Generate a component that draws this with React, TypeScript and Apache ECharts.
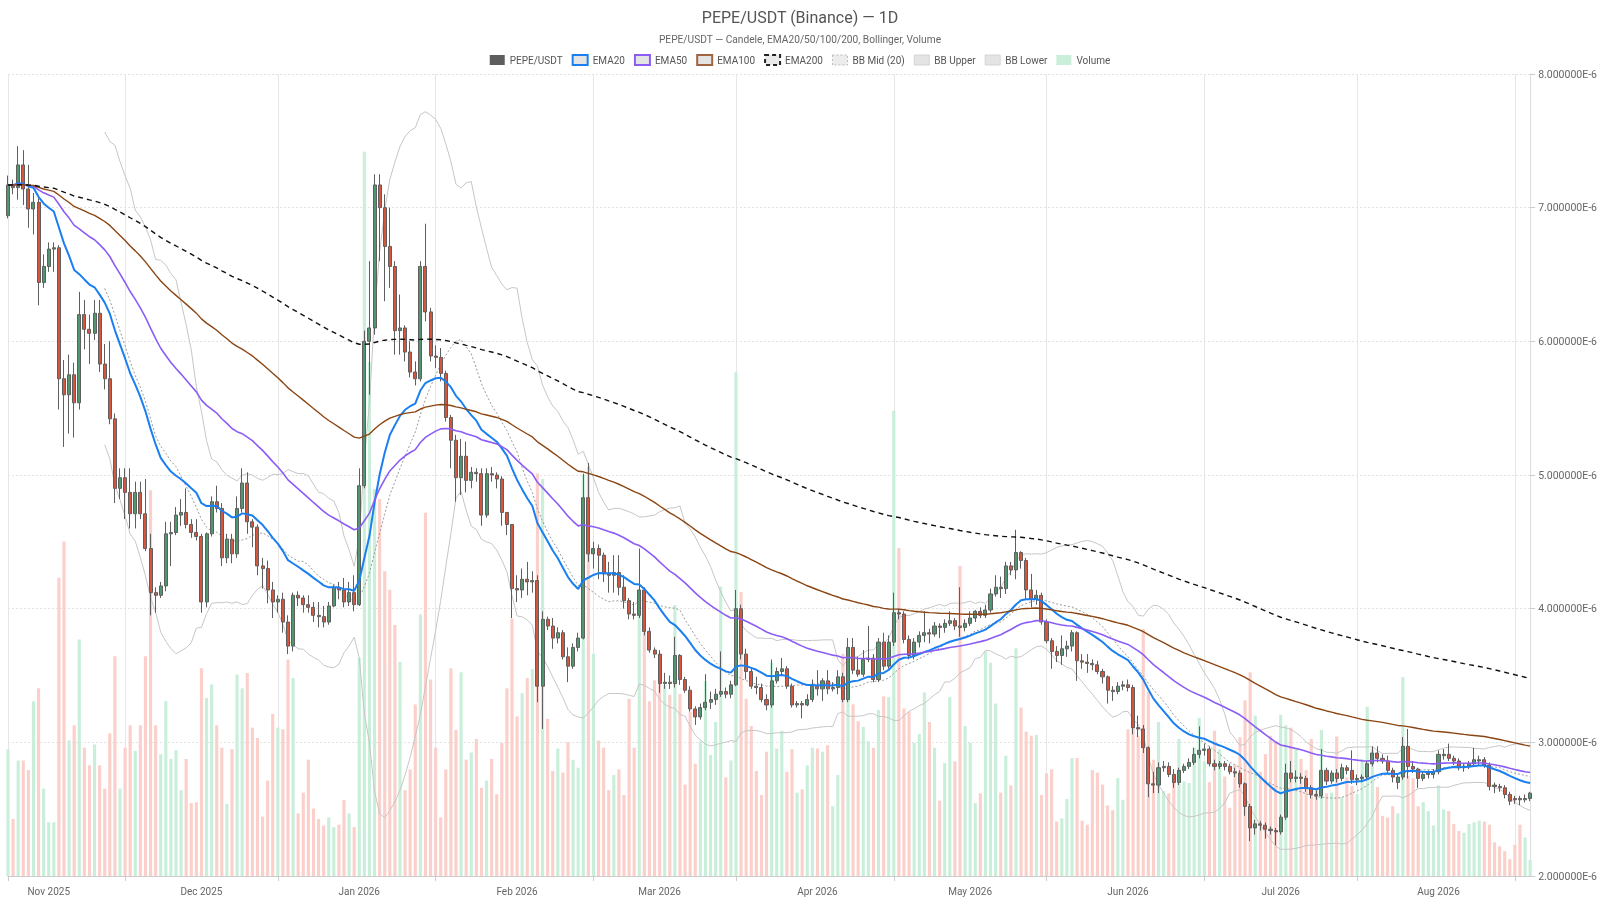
import React, { useEffect, useRef } from 'react';
import * as echarts from 'echarts';

// first daily candle of the series
const START = { y: 2025, m: 9, d: 24 };
const MONTHS = ['Jan', 'Feb', 'Mar', 'Apr', 'May', 'Jun', 'Jul', 'Aug', 'Sep', 'Oct', 'Nov', 'Dec'];

// daily candles, price in 1e-6 USDT: [open, close, low, high]
const candles: number[][] = [
  [6.94, 7.17, 6.92, 7.24], [7.17, 7.15, 7.10, 7.21], [7.15, 7.32, 7.06, 7.46], [7.32, 7.14, 7.02, 7.43], [7.14, 6.99, 6.85, 7.32],
  [6.99, 7.04, 6.80, 7.11], [7.04, 6.44, 6.27, 7.07], [6.44, 6.56, 6.40, 6.65], [6.56, 6.69, 6.52, 6.74], [6.69, 6.70, 6.52, 6.74],
  [6.70, 5.72, 5.49, 6.72], [5.72, 5.60, 5.21, 5.86], [5.60, 5.75, 5.31, 5.90], [5.75, 5.54, 5.28, 5.84], [5.54, 6.20, 5.49, 6.37],
  [6.20, 6.09, 5.94, 6.31], [6.09, 6.06, 5.83, 6.20], [6.06, 6.21, 6.01, 6.31], [6.21, 5.83, 5.77, 6.31], [5.83, 5.72, 5.64, 5.98],
  [5.72, 5.42, 5.38, 6.00], [5.42, 4.90, 4.79, 5.46], [4.90, 4.98, 4.82, 5.05], [4.98, 4.87, 4.67, 5.05], [4.87, 4.71, 4.60, 5.05],
  [4.71, 4.87, 4.60, 4.95], [4.87, 4.71, 4.67, 4.95], [4.71, 4.45, 4.43, 4.97], [4.45, 4.12, 3.95, 4.56], [4.12, 4.10, 3.97, 4.16],
  [4.10, 4.17, 4.08, 4.20], [4.17, 4.56, 4.13, 4.65], [4.56, 4.57, 4.32, 4.65], [4.57, 4.70, 4.55, 4.76], [4.70, 4.72, 4.62, 4.82],
  [4.72, 4.63, 4.60, 4.90], [4.63, 4.57, 4.53, 4.67], [4.57, 4.54, 4.51, 4.67], [4.54, 4.05, 3.97, 4.56], [4.05, 4.56, 4.01, 4.57],
  [4.56, 4.80, 4.54, 4.84], [4.80, 4.75, 4.72, 4.92], [4.75, 4.38, 4.32, 4.79], [4.38, 4.52, 4.34, 4.56], [4.52, 4.41, 4.34, 4.56],
  [4.41, 4.75, 4.38, 4.84], [4.75, 4.94, 4.72, 5.05], [4.94, 4.65, 4.56, 5.02], [4.65, 4.61, 4.46, 4.67], [4.61, 4.32, 4.25, 4.63],
  [4.32, 4.30, 4.15, 4.38], [4.30, 4.14, 4.04, 4.36], [4.14, 4.05, 3.93, 4.20], [4.05, 4.07, 3.97, 4.10], [4.07, 3.90, 3.82, 4.12],
  [3.90, 3.72, 3.66, 3.95], [3.72, 4.10, 3.68, 4.12], [4.10, 4.08, 4.02, 4.13], [4.08, 4.03, 3.97, 4.10], [4.03, 4.01, 3.97, 4.10],
  [4.01, 3.95, 3.90, 4.05], [3.95, 3.94, 3.86, 4.05], [3.94, 3.90, 3.86, 4.02], [3.90, 4.02, 3.88, 4.05], [4.02, 4.16, 4.01, 4.18],
  [4.16, 4.14, 4.07, 4.20], [4.14, 4.05, 4.01, 4.23], [4.05, 4.12, 4.02, 4.20], [4.12, 4.03, 3.98, 4.25], [4.03, 4.92, 4.02, 5.05],
  [4.92, 6.00, 4.90, 6.08], [6.00, 6.10, 5.60, 6.60], [6.10, 7.17, 6.05, 7.25], [7.17, 7.00, 6.60, 7.25], [7.00, 6.71, 6.30, 7.10],
  [6.71, 6.56, 6.40, 7.00], [6.56, 6.08, 5.90, 6.60], [6.08, 6.10, 5.90, 6.35], [6.10, 5.92, 5.85, 6.12], [5.92, 5.77, 5.73, 6.00],
  [5.77, 5.72, 5.67, 5.85], [5.72, 6.56, 5.70, 6.60], [6.56, 6.22, 6.15, 6.88], [6.22, 5.89, 5.85, 6.25], [5.89, 5.88, 5.80, 5.97],
  [5.88, 5.76, 5.70, 5.95], [5.76, 5.43, 5.40, 5.78], [5.43, 5.26, 5.05, 5.45], [5.26, 4.98, 4.80, 5.30], [4.98, 5.14, 4.85, 5.27],
  [5.14, 4.96, 4.87, 5.25], [4.96, 5.02, 4.90, 5.06], [5.02, 5.01, 4.95, 5.05], [5.01, 4.70, 4.62, 5.05], [4.70, 5.01, 4.68, 5.05],
  [5.01, 5.00, 4.95, 5.06], [5.00, 4.97, 4.90, 5.02], [4.97, 4.72, 4.62, 4.99], [4.72, 4.63, 4.55, 4.72], [4.63, 4.15, 3.93, 4.63],
  [4.15, 4.14, 4.05, 4.25], [4.14, 4.22, 4.08, 4.30], [4.22, 4.20, 4.10, 4.35], [4.20, 4.21, 4.12, 4.28], [4.21, 3.42, 3.30, 4.25],
  [3.42, 3.92, 3.10, 3.98], [3.92, 3.87, 3.84, 3.94], [3.87, 3.78, 3.70, 3.93], [3.78, 3.82, 3.74, 3.86], [3.82, 3.64, 3.62, 3.84],
  [3.64, 3.57, 3.45, 3.71], [3.57, 3.71, 3.55, 3.74], [3.71, 3.78, 3.68, 3.82], [3.78, 4.83, 3.77, 5.01], [4.83, 4.41, 4.35, 5.09],
  [4.41, 4.45, 4.30, 4.50], [4.45, 4.40, 4.22, 4.48], [4.40, 4.26, 4.20, 4.42], [4.26, 4.25, 4.12, 4.35], [4.25, 4.27, 4.12, 4.40],
  [4.27, 4.16, 4.10, 4.40], [4.16, 4.06, 4.00, 4.25], [4.06, 3.96, 3.92, 4.08], [3.96, 3.95, 3.92, 4.05], [3.95, 4.14, 3.93, 4.45],
  [4.14, 3.83, 3.80, 4.16], [3.83, 3.69, 3.67, 3.86], [3.69, 3.66, 3.63, 3.71], [3.66, 3.44, 3.37, 3.69], [3.44, 3.45, 3.40, 3.52],
  [3.45, 3.44, 3.40, 3.50], [3.44, 3.65, 3.41, 3.79], [3.65, 3.47, 3.43, 3.66], [3.47, 3.39, 3.37, 3.49], [3.39, 3.25, 3.23, 3.42],
  [3.25, 3.19, 3.13, 3.27], [3.19, 3.26, 3.17, 3.29], [3.26, 3.30, 3.24, 3.51], [3.30, 3.32, 3.25, 3.38], [3.32, 3.36, 3.28, 3.40],
  [3.36, 3.38, 3.34, 3.68], [3.38, 3.36, 3.33, 3.41], [3.36, 3.43, 3.33, 3.46], [3.43, 4.00, 3.42, 4.14], [4.00, 3.66, 3.62, 4.03],
  [3.66, 3.53, 3.47, 3.70], [3.53, 3.42, 3.40, 3.56], [3.42, 3.41, 3.36, 3.49], [3.41, 3.32, 3.30, 3.44], [3.32, 3.28, 3.24, 3.36],
  [3.28, 3.46, 3.26, 3.62], [3.46, 3.53, 3.44, 3.56], [3.53, 3.55, 3.50, 3.63], [3.55, 3.42, 3.40, 3.57], [3.42, 3.28, 3.26, 3.44],
  [3.28, 3.29, 3.26, 3.31], [3.29, 3.28, 3.18, 3.31], [3.28, 3.32, 3.27, 3.36], [3.32, 3.42, 3.30, 3.47], [3.42, 3.40, 3.35, 3.54],
  [3.40, 3.46, 3.31, 3.48], [3.46, 3.40, 3.36, 3.54], [3.40, 3.41, 3.38, 3.45], [3.41, 3.49, 3.36, 3.54], [3.49, 3.32, 3.30, 3.52],
  [3.32, 3.71, 3.30, 3.78], [3.71, 3.54, 3.51, 3.78], [3.54, 3.51, 3.49, 3.64], [3.51, 3.62, 3.49, 3.69], [3.62, 3.63, 3.60, 3.87],
  [3.63, 3.47, 3.45, 3.66], [3.47, 3.75, 3.45, 3.78], [3.75, 3.57, 3.54, 3.82], [3.57, 3.75, 3.55, 3.80], [3.75, 3.97, 3.72, 4.12],
  [3.97, 3.96, 3.92, 4.00], [3.96, 3.77, 3.74, 3.98], [3.77, 3.65, 3.62, 3.80], [3.65, 3.75, 3.62, 3.78], [3.75, 3.80, 3.71, 3.83],
  [3.80, 3.82, 3.75, 3.98], [3.82, 3.81, 3.74, 3.85], [3.81, 3.87, 3.79, 3.90], [3.87, 3.86, 3.78, 3.89], [3.86, 3.89, 3.82, 3.92],
  [3.89, 3.91, 3.87, 3.98], [3.91, 3.87, 3.84, 3.93], [3.87, 3.86, 3.79, 4.16], [3.86, 3.89, 3.83, 3.92], [3.89, 3.93, 3.87, 3.98],
  [3.93, 3.98, 3.90, 3.99], [3.98, 3.95, 3.93, 4.01], [3.95, 3.99, 3.93, 4.03], [3.99, 4.11, 3.97, 4.15], [4.11, 4.16, 4.09, 4.25],
  [4.16, 4.15, 4.08, 4.24], [4.15, 4.32, 4.11, 4.35], [4.32, 4.29, 4.25, 4.35], [4.29, 4.42, 4.22, 4.59], [4.42, 4.36, 4.30, 4.43],
  [4.36, 4.14, 4.07, 4.38], [4.14, 4.07, 4.01, 4.26], [4.07, 4.10, 4.03, 4.14], [4.10, 3.90, 3.88, 4.12], [3.90, 3.76, 3.74, 3.92],
  [3.76, 3.68, 3.55, 3.78], [3.68, 3.65, 3.60, 3.72], [3.65, 3.70, 3.58, 3.80], [3.70, 3.72, 3.64, 3.76], [3.72, 3.82, 3.68, 3.84],
  [3.82, 3.61, 3.46, 3.83], [3.61, 3.60, 3.55, 3.66], [3.60, 3.59, 3.52, 3.66], [3.59, 3.58, 3.54, 3.62], [3.58, 3.53, 3.51, 3.61],
  [3.53, 3.49, 3.44, 3.55], [3.49, 3.39, 3.29, 3.50], [3.39, 3.38, 3.31, 3.42], [3.38, 3.42, 3.36, 3.45], [3.42, 3.43, 3.39, 3.46],
  [3.43, 3.41, 3.38, 3.47], [3.41, 3.11, 3.06, 3.43], [3.11, 3.10, 3.04, 3.20], [3.10, 2.96, 2.92, 3.13], [2.96, 2.69, 2.59, 2.97],
  [2.69, 2.68, 2.62, 2.78], [2.68, 2.81, 2.62, 2.85], [2.81, 2.82, 2.78, 2.86], [2.82, 2.76, 2.74, 2.85], [2.76, 2.70, 2.66, 2.80],
  [2.70, 2.79, 2.68, 2.81], [2.79, 2.82, 2.77, 2.84], [2.82, 2.85, 2.80, 2.88], [2.85, 2.91, 2.83, 2.96], [2.91, 2.94, 2.88, 3.12],
  [2.94, 2.95, 2.90, 2.99], [2.95, 2.84, 2.82, 2.97], [2.84, 2.82, 2.79, 2.87], [2.82, 2.84, 2.80, 2.86], [2.84, 2.82, 2.79, 2.86],
  [2.82, 2.78, 2.76, 2.84], [2.78, 2.77, 2.74, 2.81], [2.77, 2.69, 2.66, 2.79], [2.69, 2.52, 2.45, 2.70], [2.52, 2.36, 2.26, 2.54],
  [2.36, 2.39, 2.31, 2.42], [2.39, 2.38, 2.34, 2.41], [2.38, 2.35, 2.28, 2.40], [2.35, 2.34, 2.31, 2.37], [2.34, 2.33, 2.23, 2.36],
  [2.33, 2.44, 2.31, 2.46], [2.44, 2.77, 2.42, 2.84], [2.77, 2.73, 2.70, 2.86], [2.73, 2.74, 2.70, 2.79], [2.74, 2.73, 2.69, 2.77],
  [2.73, 2.66, 2.63, 2.75], [2.66, 2.61, 2.58, 2.68], [2.61, 2.60, 2.57, 2.64], [2.60, 2.79, 2.58, 2.95], [2.79, 2.71, 2.68, 2.81],
  [2.71, 2.77, 2.69, 2.79], [2.77, 2.73, 2.70, 2.80], [2.73, 2.81, 2.71, 2.84], [2.81, 2.79, 2.76, 2.83], [2.79, 2.72, 2.69, 2.94],
  [2.72, 2.73, 2.68, 2.76], [2.73, 2.74, 2.70, 2.76], [2.74, 2.84, 2.72, 2.86], [2.84, 2.92, 2.82, 2.97], [2.92, 2.88, 2.85, 2.97],
  [2.88, 2.86, 2.84, 2.91], [2.86, 2.79, 2.77, 2.90], [2.79, 2.74, 2.70, 2.81], [2.70, 2.74, 2.65, 2.76], [2.74, 2.97, 2.72, 3.04],
  [2.97, 2.82, 2.73, 3.10], [2.82, 2.80, 2.77, 2.86], [2.80, 2.73, 2.66, 2.81], [2.73, 2.76, 2.71, 2.78], [2.76, 2.77, 2.73, 2.79],
  [2.76, 2.78, 2.73, 2.80], [2.78, 2.91, 2.76, 2.94], [2.90, 2.91, 2.87, 2.95], [2.91, 2.88, 2.86, 2.99], [2.88, 2.86, 2.83, 2.90],
  [2.86, 2.81, 2.79, 2.88], [2.81, 2.82, 2.78, 2.84], [2.82, 2.84, 2.80, 2.86], [2.84, 2.87, 2.82, 2.96], [2.86, 2.87, 2.83, 2.90],
  [2.87, 2.83, 2.81, 2.89], [2.83, 2.67, 2.64, 2.85], [2.68, 2.67, 2.62, 2.70], [2.67, 2.66, 2.63, 2.69], [2.66, 2.61, 2.58, 2.68],
  [2.61, 2.56, 2.53, 2.63], [2.58, 2.57, 2.54, 2.60], [2.58, 2.57, 2.53, 2.60], [2.57, 2.58, 2.55, 2.61], [2.58, 2.62, 2.56, 2.63],
];

// daily volume, in % of the (hidden) volume axis
const volumes: number[] = [
  15.8, 7.1, 14.4, 14.4, 13.2, 21.8, 23.4, 10.9, 6.7, 6.7,
  37.2, 41.7, 16.9, 18.8, 29.5, 16, 13.8, 16.4, 13.8, 10.9,
  17.8, 27.4, 10.9, 16, 18.8, 15.6, 18.8, 27.4, 48.1, 18.8,
  15.2, 21.8, 14.6, 15.7, 10.7, 14.6, 9.1, 9.2, 25.9, 22.2,
  23.9, 18.8, 16, 9, 15.8, 25.1, 23.4, 25.3, 18.5, 17.2,
  7.4, 11.9, 20.2, 18.5, 18.3, 27, 24.7, 7.8, 10.4, 14.5,
  8.4, 7.1, 6.3, 7.3, 6.1, 6.4, 9.5, 7.8, 6.1, 27.2,
  90.3, 64.1, 48.3, 47, 38, 35.7, 31.3, 26.7, 10.7, 13.3,
  21.4, 32.6, 45.3, 24.5, 16, 7.3, 13.3, 25.9, 18.2, 25.4,
  14.5, 15.4, 17.1, 11, 11.9, 14.6, 10.2, 16.6, 23.4, 32.1,
  19.9, 22.8, 24.7, 25.8, 50.2, 49.5, 19.6, 13.1, 15.9, 12.9,
  16.7, 14.5, 13.5, 50, 51, 27.7, 16.9, 16, 10.7, 12.6,
  13.3, 10.1, 22.1, 16, 33.8, 31.8, 21.8, 24.4, 26.3, 23.8,
  22.6, 33.8, 22.7, 11.4, 20.5, 14, 16.8, 24.3, 15.1, 19.2,
  36.1, 12.3, 14.4, 62.8, 35.4, 22.1, 18.7, 13.1, 10.1, 15.5,
  26.6, 15.9, 18.1, 13, 15.8, 10.4, 10.8, 13.8, 16, 15.9,
  15.5, 16.3, 8.7, 12.6, 27.7, 25.1, 21.4, 19.3, 18.6, 16.8,
  16, 20.7, 22.4, 22.3, 58, 40.9, 20.9, 20.5, 16.6, 17.7,
  22.9, 19.2, 16, 9.4, 14.1, 22.3, 14.3, 38.7, 18.7, 16.6,
  9.1, 10.3, 28, 26.6, 21.5, 10.4, 15, 11.3, 28.4, 21,
  18, 17.5, 17.6, 10.1, 12.8, 13.3, 6.8, 7.2, 9.6, 14.7,
  14.7, 6.9, 6.4, 13.2, 12.9, 11.4, 8.8, 8.2, 12.2, 9.5,
  18.3, 23, 17.5, 30.8, 23, 14.5, 19.2, 10.6, 10.3, 12,
  17.1, 11.8, 11.6, 16, 19.7, 14.3, 11.7, 18.1, 15.8, 12.4,
  8.5, 13.9, 17.3, 21.9, 25.4, 20, 13, 15.2, 17.5, 16.8,
  20.1, 18.8, 18.5, 15.9, 14.6, 13.2, 17.1, 10.9, 18.2, 10.3,
  10.4, 17.4, 9.8, 12.3, 11.2, 10.2, 14.6, 21.1, 15.9, 11.1,
  7.5, 7.3, 8.7, 7.8, 24.8, 12.5, 12.2, 8.7, 9.2, 8.1,
  6.3, 11.3, 8.3, 8.1, 6.5, 5.6, 5.4, 6.5, 6.7, 6.9,
  6.8, 6.4, 4.2, 3.7, 3.1, 2.1, 3.9, 6.4, 4.8, 2.0,
];

const emaPeriods = [20, 50, 100, 200];
const emaColors = ['#1a7ff0', '#8b5cf6', '#8b4513', '#111111'];
const BB_PERIOD = 20;
const BB_MULT = 2;
const UP = '#50966e';
const DOWN = '#d7553c';
const E6 = 1e-6;

const dates = candles.map((_, i) => {
  const d = new Date(Date.UTC(START.y, START.m, START.d + i));
  return d.toISOString().slice(0, 10);
});
const closes = candles.map((c) => c[1]);

function ema(values: number[], n: number) {
  const k = 2 / (n + 1);
  let prev = values[0];
  return values.map((v, i) => {
    prev = i === 0 ? v : v * k + prev * (1 - k);
    return prev;
  });
}

function bollinger(values: number[], n: number, mult: number) {
  const mid: (number | string)[] = [];
  const up: (number | string)[] = [];
  const low: (number | string)[] = [];
  values.forEach((_, i) => {
    if (i < n - 1) {
      mid.push('-');
      up.push('-');
      low.push('-');
      return;
    }
    const win = values.slice(i - n + 1, i + 1);
    const m = win.reduce((a, b) => a + b, 0) / n;
    const sd = Math.sqrt(win.reduce((a, b) => a + (b - m) * (b - m), 0) / n);
    mid.push(m * E6);
    up.push((m + mult * sd) * E6);
    low.push((m - mult * sd) * E6);
  });
  return { mid, up, low };
}

const App: React.FC = () => {
  const chartRef = useRef<HTMLDivElement>(null);

  useEffect(() => {
    let chart: echarts.ECharts | null = null;
    if (chartRef.current) {
      chart = echarts.init(chartRef.current, null, { renderer: 'svg' });
      const bb = bollinger(closes, BB_PERIOD, BB_MULT);
      const isMid = (i: number, v: string) => i === 0 || v.slice(8) === '16';

      const legendItem = (name: string, style: any) => ({ name, icon: 'rect', itemStyle: style });

      const option: echarts.EChartsOption = {
        animation: false,
        textStyle: { fontFamily: 'Roboto, Arial, sans-serif' },
        title: {
          text: 'PEPE/USDT (Binance) — 1D',
          subtext: 'PEPE/USDT — Candele, EMA20/50/100/200, Bollinger, Volume',
          left: 'center',
          top: 9,
          padding: 0,
          itemGap: 9,
          textStyle: { fontSize: 16, fontWeight: 'normal', color: '#555' },
          subtextStyle: { fontSize: 10.2, color: '#666' },
        },
        legend: {
          top: 54,
          left: 'center',
          padding: 0,
          itemWidth: 15,
          itemHeight: 10,
          itemGap: 9,
          textStyle: { fontSize: 10, color: '#555' },
          data: [
            legendItem('PEPE/USDT', { color: '#5e5e5e', borderWidth: 0 }),
            legendItem('EMA20', { color: '#e4e4e4', borderColor: emaColors[0], borderWidth: 2 }),
            legendItem('EMA50', { color: '#e4e4e4', borderColor: emaColors[1], borderWidth: 2 }),
            legendItem('EMA100', { color: '#e4e4e4', borderColor: '#a0653f', borderWidth: 2 }),
            legendItem('EMA200', { color: '#e9e9e9', borderColor: '#222', borderWidth: 2, borderType: [4, 3] }),
            legendItem('BB Mid (20)', { color: '#ececec', borderColor: '#bbb', borderWidth: 1, borderType: [2, 2] }),
            legendItem('BB Upper', { color: '#e4e4e4', borderColor: '#d4d4d4', borderWidth: 1 }),
            legendItem('BB Lower', { color: '#e4e4e4', borderColor: '#d4d4d4', borderWidth: 1 }),
            legendItem('Volume', { color: '#c9efdb', borderWidth: 0 }),
          ],
        },
        grid: { left: 8, right: 68, top: 74, bottom: 24 },
        xAxis: {
          type: 'category',
          data: dates,
          boundaryGap: false,
          axisLine: { lineStyle: { color: '#cccccc' } },
          axisTick: { interval: isMid, length: 5, lineStyle: { color: '#cccccc' } },
          axisLabel: {
            interval: (_i: number, v: string) => v.slice(8) === '01',
            formatter: (v: string) => `${MONTHS[Number(v.slice(5, 7)) - 1]} ${v.slice(0, 4)}`,
            color: '#666',
            fontSize: 10,
            margin: 10,
          },
          splitLine: { show: true, interval: isMid, lineStyle: { color: '#e6e6e6', width: 1 } },
        },
        yAxis: [
          {
            type: 'value',
            position: 'right',
            min: 2 * E6,
            max: 8 * E6,
            interval: 1 * E6,
            axisLine: { show: true, lineStyle: { color: '#dddddd' } },
            axisTick: { show: true, length: 5, lineStyle: { color: '#cccccc' } },
            axisLabel: {
              color: '#666',
              fontSize: 10.5,
              formatter: (v: number) => v.toExponential(6).toUpperCase(),
            },
            splitLine: { lineStyle: { color: '#e3e3e3', type: [2, 2] } },
          },
          { type: 'value', min: 0, max: 100, show: false, splitLine: { show: false } },
        ],
        series: [
          {
            name: 'Volume',
            type: 'bar',
            yAxisIndex: 1,
            barWidth: '62%',
            z: 1,
            data: volumes.map((v, i) => ({
              value: v,
              itemStyle: { color: candles[i][1] >= candles[i][0] ? '#c9efdb' : '#fbd0cb' },
            })),
          },
          {
            name: 'BB Upper',
            type: 'line',
            data: bb.up,
            symbol: 'none',
            z: 2,
            lineStyle: { color: '#c6c6c6', width: 1 },
            itemStyle: { color: '#c6c6c6' },
          },
          {
            name: 'BB Lower',
            type: 'line',
            data: bb.low,
            symbol: 'none',
            z: 2,
            lineStyle: { color: '#c6c6c6', width: 1 },
            itemStyle: { color: '#c6c6c6' },
          },
          {
            name: 'BB Mid (20)',
            type: 'line',
            data: bb.mid,
            symbol: 'none',
            z: 2,
            lineStyle: { color: '#999', width: 1, type: [2, 2] },
            itemStyle: { color: '#999' },
          },
          {
            name: 'PEPE/USDT',
            type: 'candlestick',
            z: 3,
            barWidth: '70%',
            data: candles.map((c) => c.map((v) => v * E6)),
            itemStyle: {
              color: UP,
              color0: DOWN,
              borderColor: '#5f5f5f',
              borderColor0: '#5f5f5f',
              borderWidth: 1,
            },
          },
          ...emaPeriods.map((p, k) => ({
            name: `EMA${p}`,
            type: 'line' as const,
            data: ema(closes, p).map((v) => v * E6),
            symbol: 'none',
            z: 4,
            lineStyle: {
              color: emaColors[k],
              width: p === 20 ? 2 : p === 50 ? 1.6 : 1.4,
              type: p === 200 ? ([5, 4] as any) : 'solid',
            },
            itemStyle: { color: emaColors[k] },
          })),
        ],
      };
      chart.setOption(option);
    }
    return () => {
      if (chart) chart.dispose();
    };
  }, []);

  // the chart fills the whole viewport
  return (
    <div
      ref={chartRef}
      style={{ position: 'fixed', left: 0, top: 0, width: '100vw', height: '100vh' }}
    />
  );
};

export default App;
